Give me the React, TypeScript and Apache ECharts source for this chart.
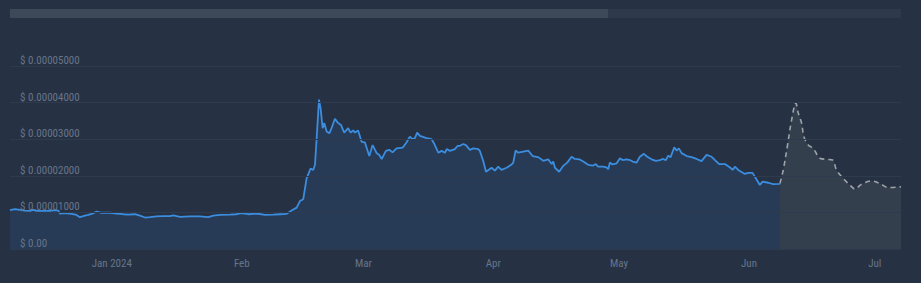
import React, { useEffect, useRef } from "react";
import * as echarts from "echarts";

const history: [string, number][] = [
  ["2023-12-07 17:00", 1.06e-5], ["2023-12-08 21:00", 1.09e-5], ["2023-12-10 02:00", 1.07e-5],
  ["2023-12-11 06:00", 1.05e-5], ["2023-12-12 11:00", 1.04e-5], ["2023-12-13 06:00", 1.07e-5],
  ["2023-12-14 01:00", 1.04e-5], ["2023-12-15 15:00", 1.04e-5], ["2023-12-17 06:00", 1.04e-5],
  ["2023-12-18 10:00", 1.06e-5], ["2023-12-19 05:00", 1.05e-5], ["2023-12-19 15:00", 0.97e-5],
  ["2023-12-20 19:00", 0.98e-5], ["2023-12-22 10:00", 0.96e-5], ["2023-12-23 14:00", 0.93e-5],
  ["2023-12-24 09:00", 0.87e-5], ["2023-12-25 14:00", 0.91e-5], ["2023-12-26 09:00", 0.93e-5],
  ["2023-12-27 04:00", 0.96e-5], ["2023-12-28 09:00", 1.02e-5], ["2023-12-29 14:00", 0.99e-5],
  ["2023-12-31 13:00", 0.99e-5], ["2024-01-02 03:00", 0.97e-5], ["2024-01-03 17:00", 0.95e-5],
  ["2024-01-04 22:00", 0.94e-5], ["2024-01-06 12:00", 0.95e-5], ["2024-01-07 17:00", 0.91e-5],
  ["2024-01-08 22:00", 0.86e-5], ["2024-01-10 02:00", 0.87e-5], ["2024-01-11 17:00", 0.89e-5],
  ["2024-01-13 06:00", 0.90e-5], ["2024-01-14 21:00", 0.90e-5], ["2024-01-15 16:00", 0.92e-5],
  ["2024-01-17 06:00", 0.88e-5], ["2024-01-19 15:00", 0.89e-5], ["2024-01-22 00:00", 0.89e-5],
  ["2024-01-24 00:00", 0.87e-5], ["2024-01-25 05:00", 0.91e-5], ["2024-01-26 19:00", 0.93e-5],
  ["2024-01-29 04:00", 0.94e-5], ["2024-01-30 18:00", 0.95e-5], ["2024-01-31 23:00", 0.98e-5],
  ["2024-02-02 13:00", 0.95e-5], ["2024-02-04 13:00", 0.97e-5], ["2024-02-06 12:00", 0.93e-5],
  ["2024-02-08 12:00", 0.94e-5], ["2024-02-10 02:00", 0.95e-5], ["2024-02-11 17:00", 0.96e-5],
  ["2024-02-12 21:00", 1.05e-5], ["2024-02-14 02:00", 1.13e-5], ["2024-02-14 21:00", 1.31e-5],
  ["2024-02-15 16:00", 1.36e-5], ["2024-02-16 11:00", 1.93e-5], ["2024-02-17 10:00", 2.20e-5],
  ["2024-02-18 01:00", 2.16e-5], ["2024-02-18 11:00", 2.30e-5], ["2024-02-18 20:00", 2.98e-5],
  ["2024-02-19 10:00", 4.08e-5], ["2024-02-19 19:00", 3.85e-5], ["2024-02-20 07:00", 3.30e-5],
  ["2024-02-20 16:00", 3.44e-5], ["2024-02-21 06:00", 3.21e-5], ["2024-02-21 21:00", 3.16e-5],
  ["2024-02-22 10:00", 3.30e-5], ["2024-02-23 05:00", 3.56e-5], ["2024-02-24 00:00", 3.44e-5],
  ["2024-02-24 16:00", 3.39e-5], ["2024-02-25 10:00", 3.18e-5], ["2024-02-26 09:00", 3.30e-5],
  ["2024-02-26 23:00", 3.18e-5], ["2024-02-27 14:00", 3.24e-5], ["2024-02-28 00:00", 3.18e-5],
  ["2024-02-28 18:00", 3.24e-5], ["2024-02-29 14:00", 2.93e-5], ["2024-03-01 09:00", 2.91e-5],
  ["2024-03-02 10:00", 2.54e-5], ["2024-03-03 05:00", 2.84e-5], ["2024-03-04 04:00", 2.62e-5],
  ["2024-03-04 19:00", 2.57e-5], ["2024-03-05 09:00", 2.46e-5], ["2024-03-06 09:00", 2.68e-5],
  ["2024-03-07 04:00", 2.71e-5], ["2024-03-07 23:00", 2.64e-5], ["2024-03-08 22:00", 2.75e-5],
  ["2024-03-10 09:00", 2.77e-5], ["2024-03-11 04:00", 2.89e-5], ["2024-03-12 02:00", 3.07e-5],
  ["2024-03-12 18:00", 3.00e-5], ["2024-03-13 07:00", 3.03e-5], ["2024-03-13 20:00", 3.18e-5],
  ["2024-03-14 12:00", 3.09e-5], ["2024-03-16 02:00", 3.03e-5], ["2024-03-17 07:00", 3.00e-5],
  ["2024-03-17 20:00", 2.89e-5], ["2024-03-18 21:00", 2.63e-5], ["2024-03-19 16:00", 2.68e-5],
  ["2024-03-20 11:00", 2.63e-5], ["2024-03-20 21:00", 2.73e-5], ["2024-03-21 16:00", 2.68e-5],
  ["2024-03-22 20:00", 2.73e-5], ["2024-03-23 12:00", 2.82e-5], ["2024-03-24 01:00", 2.82e-5],
  ["2024-03-24 20:00", 2.87e-5], ["2024-03-25 11:00", 2.84e-5], ["2024-03-26 10:00", 2.71e-5],
  ["2024-03-27 05:00", 2.75e-5], ["2024-03-28 10:00", 2.73e-5], ["2024-03-28 19:00", 2.68e-5],
  ["2024-03-29 14:00", 2.41e-5], ["2024-03-30 06:00", 2.11e-5], ["2024-03-31 14:00", 2.22e-5],
  ["2024-04-01 09:00", 2.14e-5], ["2024-04-02 04:00", 2.25e-5], ["2024-04-02 23:00", 2.16e-5],
  ["2024-04-04 04:00", 2.22e-5], ["2024-04-05 09:00", 2.31e-5], ["2024-04-05 18:00", 2.36e-5],
  ["2024-04-06 08:00", 2.69e-5], ["2024-04-06 23:00", 2.63e-5], ["2024-04-08 03:00", 2.66e-5],
  ["2024-04-09 08:00", 2.69e-5], ["2024-04-10 09:00", 2.54e-5], ["2024-04-11 17:00", 2.51e-5],
  ["2024-04-12 22:00", 2.41e-5], ["2024-04-14 02:00", 2.45e-5], ["2024-04-14 22:00", 2.32e-5],
  ["2024-04-15 07:00", 2.39e-5], ["2024-04-15 17:00", 2.22e-5], ["2024-04-16 17:00", 2.11e-5],
  ["2024-04-17 16:00", 2.27e-5], ["2024-04-18 15:00", 2.36e-5], ["2024-04-19 16:00", 2.52e-5],
  ["2024-04-20 11:00", 2.46e-5], ["2024-04-21 12:00", 2.45e-5], ["2024-04-22 11:00", 2.39e-5],
  ["2024-04-23 15:00", 2.30e-5], ["2024-04-24 20:00", 2.28e-5], ["2024-04-25 10:00", 2.32e-5],
  ["2024-04-26 00:00", 2.25e-5], ["2024-04-27 05:00", 2.25e-5], ["2024-04-28 00:00", 2.23e-5],
  ["2024-04-28 10:00", 2.18e-5], ["2024-04-28 19:00", 2.36e-5], ["2024-04-29 11:00", 2.31e-5],
  ["2024-04-30 10:00", 2.34e-5], ["2024-05-01 05:00", 2.48e-5], ["2024-05-01 20:00", 2.43e-5],
  ["2024-05-02 19:00", 2.45e-5], ["2024-05-03 14:00", 2.43e-5], ["2024-05-04 06:00", 2.39e-5],
  ["2024-05-05 04:00", 2.36e-5], ["2024-05-05 23:00", 2.52e-5], ["2024-05-06 22:00", 2.60e-5],
  ["2024-05-07 17:00", 2.52e-5], ["2024-05-08 18:00", 2.45e-5], ["2024-05-09 19:00", 2.41e-5],
  ["2024-05-10 18:00", 2.43e-5], ["2024-05-11 09:00", 2.46e-5], ["2024-05-12 04:00", 2.43e-5],
  ["2024-05-12 17:00", 2.55e-5], ["2024-05-13 07:00", 2.51e-5], ["2024-05-14 04:00", 2.78e-5],
  ["2024-05-14 17:00", 2.69e-5], ["2024-05-15 06:00", 2.75e-5], ["2024-05-15 22:00", 2.62e-5],
  ["2024-05-17 03:00", 2.54e-5], ["2024-05-18 07:00", 2.51e-5], ["2024-05-19 12:00", 2.46e-5],
  ["2024-05-20 16:00", 2.40e-5], ["2024-05-21 21:00", 2.57e-5], ["2024-05-23 02:00", 2.52e-5],
  ["2024-05-23 21:00", 2.43e-5], ["2024-05-24 21:00", 2.32e-5], ["2024-05-26 06:00", 2.32e-5],
  ["2024-05-27 11:00", 2.23e-5], ["2024-05-28 02:00", 2.16e-5], ["2024-05-28 15:00", 2.25e-5],
  ["2024-05-29 10:00", 2.16e-5], ["2024-05-31 00:00", 2.05e-5], ["2024-05-31 19:00", 2.08e-5],
  ["2024-06-01 20:00", 2.08e-5], ["2024-06-02 19:00", 1.90e-5], ["2024-06-03 14:00", 1.75e-5],
  ["2024-06-04 06:00", 1.84e-5], ["2024-06-05 14:00", 1.81e-5], ["2024-06-06 18:00", 1.77e-5],
  ["2024-06-08 05:00", 1.78e-5], ["2024-06-08 09:00", 1.79e-5],
];

const forecast: [string, number][] = [
  ["2024-06-08 09:00", 1.79e-5], ["2024-06-09 04:00", 2.16e-5], ["2024-06-10 03:00", 2.80e-5],
  ["2024-06-11 04:00", 3.53e-5], ["2024-06-12 04:00", 3.99e-5], ["2024-06-12 18:00", 3.71e-5],
  ["2024-06-13 13:00", 3.44e-5], ["2024-06-14 02:00", 3.07e-5], ["2024-06-15 03:00", 2.84e-5],
  ["2024-06-16 07:00", 2.75e-5], ["2024-06-17 22:00", 2.48e-5], ["2024-06-19 12:00", 2.45e-5],
  ["2024-06-20 22:00", 2.43e-5], ["2024-06-21 21:00", 2.16e-5], ["2024-06-23 11:00", 1.93e-5],
  ["2024-06-25 01:00", 1.75e-5], ["2024-06-26 06:00", 1.64e-5], ["2024-06-27 20:00", 1.77e-5],
  ["2024-06-30 06:00", 1.86e-5], ["2024-07-02 05:00", 1.79e-5], ["2024-07-04 05:00", 1.68e-5],
  ["2024-07-07 06:00", 1.70e-5],
];

const monthNames = ["Jan", "Feb", "Mar", "Apr", "May", "Jun", "Jul", "Aug", "Sep", "Oct", "Nov", "Dec"];
const axisStart = "2023-12-07 17:00";
const axisEnd = "2024-07-07 06:00";
const yMax = 5e-5;
const yStep = 1e-5;
const DAY = 86400000;

const ts = (s: string) => new Date(s.replace(" ", "T")).getTime();

const FONT = '"Liberation Sans Narrow", "Roboto Condensed", Roboto, sans-serif';

export default function App() {
  const ref = useRef<HTMLDivElement>(null);
  useEffect(() => {
    document.body.style.margin = "0";
    document.body.style.background = "#263243";
    const chart = echarts.init(ref.current!, undefined, { renderer: "svg" });
    chart.setOption({
      animation: false,
      backgroundColor: "#263243",
      grid: { left: 10, right: 20, top: 66, bottom: 34 },
      graphic: [
        { type: "rect", shape: { x: 10, y: 9, width: 891, height: 9 }, style: { fill: "#2e3a4b" } },
        { type: "rect", shape: { x: 10, y: 9, width: 598, height: 9 }, style: { fill: "#3d4859" } },
      ],
      xAxis: {
        type: "time",
        min: ts(axisStart),
        max: ts(axisEnd),
        splitNumber: 7,
        minInterval: 28 * DAY,
        maxInterval: 31 * DAY,
        axisLine: { show: false },
        axisTick: { show: false },
        splitLine: { show: false },
        axisLabel: {
          color: "#66758b",
          fontSize: 11,
          fontFamily: FONT,
          margin: 9,
          showMinLabel: false,
          showMaxLabel: false,
          formatter: (v: number) => {
            const d = new Date(v);
            const m = d.getMonth();
            return m === 0 ? `${monthNames[m]} ${d.getFullYear()}` : monthNames[m];
          },
        },
      },
      yAxis: {
        type: "value",
        min: 0,
        max: yMax,
        interval: yStep,
        z: 10,
        axisLine: { show: false },
        axisTick: { show: false },
        splitLine: { lineStyle: { color: "#2e3b4e", width: 1 } },
        axisLabel: {
          inside: true,
          margin: 10,
          verticalAlign: "bottom",
          color: "#66758b",
          fontSize: 11,
          fontFamily: FONT,
          formatter: (v: number) => (v === 0 ? "$ 0.00" : "$ " + v.toFixed(8)),
        },
      },
      series: [
        {
          type: "line",
          data: history.map(([d, v]) => [ts(d), v]),
          showSymbol: false,
          lineStyle: { color: "#3b8de0", width: 1.8 },
          areaStyle: { color: "#283b56", opacity: 1 },
          z: 3,
        },
        {
          type: "line",
          data: forecast.map(([d, v]) => [ts(d), v]),
          showSymbol: false,
          smooth: 0.35,
          lineStyle: { color: "#9ea3aa", width: 1.6, type: [5, 4] },
          areaStyle: { color: "#343f4e", opacity: 1 },
          z: 2,
        },
      ],
    });
    return () => chart.dispose();
  }, []);
  return <div ref={ref} style={{ width: 921, height: 283 }} />;
}
